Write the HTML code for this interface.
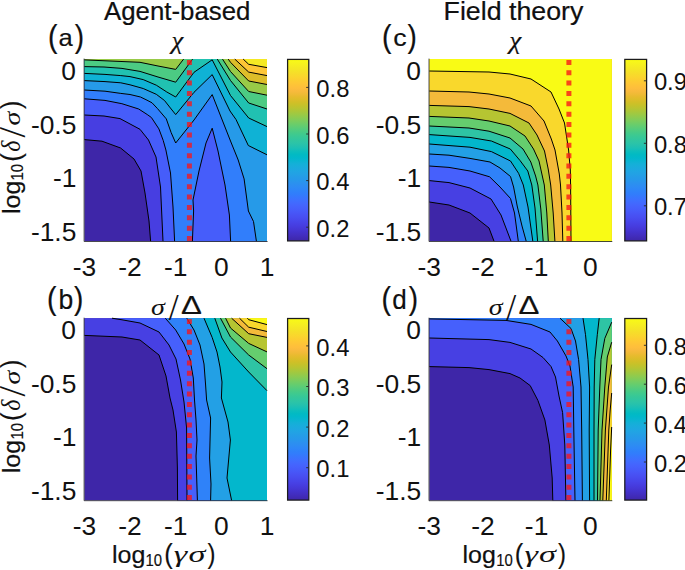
<!DOCTYPE html>
<html><head><meta charset="utf-8"><title>Figure</title>
<style>
html,body{margin:0;padding:0;background:#fff;}
svg{display:block;}
text{font-family:"Liberation Sans",sans-serif;fill:#111;}
</style></head><body>
<svg width="685" height="570" viewBox="0 0 685 570">
<rect width="685" height="570" fill="#fff"/>
<defs><linearGradient id="pg" x1="0" y1="1" x2="0" y2="0">
<stop offset="0.0000" stop-color="#3e26a8"/>
<stop offset="0.0159" stop-color="#402ab4"/>
<stop offset="0.0317" stop-color="#422ec0"/>
<stop offset="0.0476" stop-color="#4332cb"/>
<stop offset="0.0635" stop-color="#4537d5"/>
<stop offset="0.0794" stop-color="#463cde"/>
<stop offset="0.0952" stop-color="#4741e5"/>
<stop offset="0.1111" stop-color="#4747eb"/>
<stop offset="0.1270" stop-color="#484df0"/>
<stop offset="0.1429" stop-color="#4852f4"/>
<stop offset="0.1587" stop-color="#4758f8"/>
<stop offset="0.1746" stop-color="#465efb"/>
<stop offset="0.1905" stop-color="#4563fd"/>
<stop offset="0.2063" stop-color="#4269fe"/>
<stop offset="0.2222" stop-color="#3e6fff"/>
<stop offset="0.2381" stop-color="#3875fe"/>
<stop offset="0.2540" stop-color="#327cfc"/>
<stop offset="0.2698" stop-color="#2f81fa"/>
<stop offset="0.2857" stop-color="#2e87f7"/>
<stop offset="0.3016" stop-color="#2d8cf3"/>
<stop offset="0.3175" stop-color="#2b91ef"/>
<stop offset="0.3333" stop-color="#2797eb"/>
<stop offset="0.3492" stop-color="#259be8"/>
<stop offset="0.3651" stop-color="#23a0e5"/>
<stop offset="0.3810" stop-color="#20a5e3"/>
<stop offset="0.3968" stop-color="#1ca9df"/>
<stop offset="0.4127" stop-color="#18addb"/>
<stop offset="0.4286" stop-color="#12b1d6"/>
<stop offset="0.4444" stop-color="#08b5d0"/>
<stop offset="0.4603" stop-color="#01b8ca"/>
<stop offset="0.4762" stop-color="#02bac3"/>
<stop offset="0.4921" stop-color="#0bbdbd"/>
<stop offset="0.5079" stop-color="#19bfb6"/>
<stop offset="0.5238" stop-color="#24c1ae"/>
<stop offset="0.5397" stop-color="#2cc4a7"/>
<stop offset="0.5556" stop-color="#31c69f"/>
<stop offset="0.5714" stop-color="#37c897"/>
<stop offset="0.5873" stop-color="#3fca8e"/>
<stop offset="0.6032" stop-color="#4acb84"/>
<stop offset="0.6190" stop-color="#57cc7a"/>
<stop offset="0.6349" stop-color="#64cd6f"/>
<stop offset="0.6508" stop-color="#72cd64"/>
<stop offset="0.6667" stop-color="#81cc59"/>
<stop offset="0.6825" stop-color="#8fcb4e"/>
<stop offset="0.6984" stop-color="#9dc943"/>
<stop offset="0.7143" stop-color="#abc739"/>
<stop offset="0.7302" stop-color="#b9c431"/>
<stop offset="0.7460" stop-color="#c5c22a"/>
<stop offset="0.7619" stop-color="#d1bf27"/>
<stop offset="0.7778" stop-color="#dcbd29"/>
<stop offset="0.7937" stop-color="#e6bb2d"/>
<stop offset="0.8095" stop-color="#f0ba36"/>
<stop offset="0.8254" stop-color="#f8ba3d"/>
<stop offset="0.8413" stop-color="#febe3c"/>
<stop offset="0.8571" stop-color="#fec338"/>
<stop offset="0.8730" stop-color="#fec934"/>
<stop offset="0.8889" stop-color="#fccf30"/>
<stop offset="0.9048" stop-color="#fad62d"/>
<stop offset="0.9206" stop-color="#f7dc2a"/>
<stop offset="0.9365" stop-color="#f5e327"/>
<stop offset="0.9524" stop-color="#f5e924"/>
<stop offset="0.9683" stop-color="#f6ef20"/>
<stop offset="0.9841" stop-color="#f7f51b"/>
<stop offset="1.0000" stop-color="#f9fb15"/>
</linearGradient></defs>
<g shape-rendering="geometricPrecision">
<rect x="84.4" y="59.1" width="182.6" height="182.1" fill="#3e26a8"/>
<polygon points="84.4,139.6 102.0,141.2 120.6,148.0 134.0,159.0 141.0,171.0 145.0,193.0 149.0,221.0 150.6,241.2 267.0,241.2 267.0,59.1 84.4,59.1" fill="#473ee1"/>
<polygon points="84.4,115.0 104.0,116.0 120.0,118.6 140.0,129.3 148.5,140.0 156.0,157.0 160.5,187.0 163.0,241.2 267.0,241.2 267.0,59.1 84.4,59.1" fill="#465dfa"/>
<polygon points="84.4,98.8 105.0,100.4 121.9,103.7 138.7,109.0 147.2,114.5 151.4,117.5 158.9,128.9 163.2,140.4 165.9,150.0 170.5,173.0 173.0,207.0 174.6,241.2 267.0,241.2 267.0,59.1 84.4,59.1" fill="#317efb"/>
<polygon points="84.4,90.0 105.0,91.2 120.8,93.4 130.0,94.5 140.5,97.0 147.0,100.2 152.0,102.8 157.5,108.6 166.3,118.9 171.1,132.5 175.7,143.0 194.0,120.0 212.2,94.6 230.5,141.0 238.2,160.0 244.1,178.9 248.4,211.0 253.5,221.5 256.4,241.2 267.0,241.2 267.0,59.1 84.4,59.1" fill="#269ae8"/>
<polygon points="84.4,80.6 105.0,81.6 120.8,82.8 130.0,84.8 143.2,88.5 156.3,94.3 164.5,100.5 170.4,108.0 175.7,114.6 194.0,92.3 212.2,74.6 230.0,111.0 236.0,119.5 248.3,145.5 267.0,154.8 267.0,59.1 84.4,59.1" fill="#0fb2d5"/>
<polygon points="84.4,73.4 105.0,74.4 120.8,75.6 130.0,76.6 143.2,79.6 156.3,85.2 166.8,92.0 175.7,97.0 194.0,72.3 212.2,59.8 230.5,95.5 248.7,118.0 267.0,126.6 267.0,59.1 84.4,59.1" fill="#21c1b1"/>
<polygon points="84.4,66.6 104.0,67.0 122.0,68.4 140.0,71.4 158.0,77.0 175.7,82.2 192.6,59.1 84.4,59.1" fill="#4ccb83"/>
<polygon points="217.3,59.1 230.5,80.5 248.7,103.0 267.0,109.0 267.0,59.1" fill="#4ccb83"/>
<polygon points="84.4,59.9 140.0,62.3 158.0,66.0 175.7,69.4 183.6,59.1 84.4,59.1" fill="#98ca47"/>
<polygon points="222.5,59.1 230.5,71.5 248.7,91.5 267.0,95.2 267.0,59.1" fill="#98ca47"/>
<polygon points="228.2,59.1 230.5,62.3 248.7,81.0 267.0,84.5 267.0,59.1" fill="#ddbd29"/>
<polygon points="234.8,59.1 248.7,72.1 267.0,75.6 267.0,59.1" fill="#fec636"/>
<polygon points="243.2,59.1 248.7,64.3 267.0,67.6 267.0,59.1" fill="#f5e924"/>
<polygon points="192.4,241.2 193.6,211.0 193.0,200.0 199.0,171.0 206.0,143.0 212.2,128.2 218.0,151.0 225.0,185.0 229.4,215.0 230.6,241.2" fill="#465dfa"/>
<rect x="84.4" y="318.2" width="182.6" height="182.2" fill="#3e26a8"/>
<polygon points="84.4,335.4 122.0,337.0 140.0,340.0 159.0,355.0 166.0,376.0 170.0,398.0 173.0,410.0 176.4,432.0 177.4,468.0 177.6,500.4 267.0,500.4 267.0,318.2 84.4,318.2" fill="#4740e3"/>
<polygon points="112.0,318.2 122.0,319.8 140.0,323.0 159.0,332.0 169.0,345.0 176.0,359.0 180.5,380.0 184.0,402.0 186.6,428.0 187.0,500.4 267.0,500.4 267.0,318.2" fill="#4660fc"/>
<polygon points="165.3,318.2 175.7,330.0 184.0,344.0 190.0,359.0 193.3,378.0 194.5,400.0 196.0,420.0 197.0,440.0 196.0,456.0 197.4,500.4 267.0,500.4 267.0,318.2" fill="#2f82f9"/>
<polygon points="186.8,318.2 194.0,330.0 200.0,345.0 204.0,364.0 205.6,385.0 206.6,400.0 210.6,418.0 209.6,458.0 211.0,484.0 210.6,500.4 267.0,500.4 267.0,318.2" fill="#23a0e5"/>
<polygon points="204.0,318.2 212.2,337.5 217.0,352.0 220.0,367.0 222.0,382.0 221.4,398.0 228.0,422.0 230.4,440.0 227.0,478.0 231.6,500.4 267.0,500.4 267.0,318.2" fill="#03b7cc"/>
<polygon points="214.8,318.2 221.9,338.0 230.5,352.0 248.7,372.0 267.0,390.7 267.0,318.2" fill="#2ec4a4"/>
<polygon points="220.5,318.2 230.5,337.0 248.7,355.0 267.0,368.7 267.0,318.2" fill="#65cd6e"/>
<polygon points="225.6,318.2 230.5,328.0 248.7,343.4 267.0,351.9 267.0,318.2" fill="#b6c532"/>
<polygon points="231.6,318.2 248.7,333.7 267.0,337.4 267.0,318.2" fill="#f4ba3a"/>
<polygon points="239.5,318.2 248.7,327.2 267.0,331.5 267.0,318.2" fill="#f9d82c"/>
<polygon points="247.4,318.2 248.7,319.7 267.0,324.6 267.0,318.2" fill="#f9fb15"/>
<rect x="429.3" y="59.1" width="182.4" height="182.1" fill="#3e26a8"/>
<polygon points="429.3,202.0 449.0,205.0 470.0,213.0 489.0,228.0 494.0,241.2 611.7,241.2 611.7,59.1 429.3,59.1" fill="#4740e3"/>
<polygon points="429.3,180.6 449.0,182.6 470.0,188.0 491.0,199.0 501.0,215.0 511.0,241.2 611.7,241.2 611.7,59.1 429.3,59.1" fill="#4660fc"/>
<polygon points="429.3,166.0 449.0,167.4 470.0,171.0 489.6,176.8 500.0,187.0 510.5,198.5 514.5,213.0 518.3,241.2 611.7,241.2 611.7,59.1 429.3,59.1" fill="#2f82f9"/>
<polygon points="429.3,154.0 449.0,155.2 470.0,158.4 490.0,162.0 500.0,168.0 510.5,176.5 513.6,187.0 517.2,206.0 522.0,226.0 526.2,241.2 611.7,241.2 611.7,59.1 429.3,59.1" fill="#23a0e5"/>
<polygon points="429.3,144.0 470.0,147.2 491.4,151.6 510.5,161.0 518.6,173.3 523.3,185.0 528.0,207.0 532.8,241.2 611.7,241.2 611.7,59.1 429.3,59.1" fill="#03b7cc"/>
<polygon points="429.3,134.6 470.0,137.4 491.4,141.0 510.3,149.0 520.0,160.5 527.8,171.0 531.8,185.0 535.0,208.0 537.6,241.2 611.7,241.2 611.7,59.1 429.3,59.1" fill="#2ec4a4"/>
<polygon points="429.3,126.0 469.0,128.0 489.0,131.2 510.0,138.0 523.0,149.0 530.8,162.0 535.6,176.0 537.9,185.0 540.8,209.0 543.2,241.2 611.7,241.2 611.7,59.1 429.3,59.1" fill="#65cd6e"/>
<polygon points="429.3,116.4 469.0,118.0 489.0,121.0 510.0,126.0 525.0,136.0 533.5,149.0 539.0,161.0 544.3,185.0 546.8,213.0 548.3,241.2 611.7,241.2 611.7,59.1 429.3,59.1" fill="#b6c532"/>
<polygon points="429.3,105.4 469.0,106.6 489.0,109.0 510.0,113.4 529.0,123.0 537.0,135.0 544.5,151.0 548.2,169.0 550.7,185.0 553.2,213.0 554.9,241.2 611.7,241.2 611.7,59.1 429.3,59.1" fill="#f4ba3a"/>
<polygon points="429.3,91.0 469.0,92.0 489.0,94.0 510.0,98.0 531.0,106.0 544.0,121.0 551.3,139.0 555.0,150.0 559.3,174.0 560.5,185.0 562.0,213.0 562.8,241.2 611.7,241.2 611.7,59.1 429.3,59.1" fill="#f9d82c"/>
<polygon points="429.3,71.0 489.0,72.0 510.0,74.0 531.0,79.0 551.0,92.0 559.0,109.0 564.5,123.0 568.6,150.0 570.3,170.0 570.6,185.0 571.0,241.2 611.7,241.2 611.7,59.1 429.3,59.1" fill="#f9fb15"/>
<rect x="429.3" y="318.2" width="182.4" height="182.2" fill="#3e26a8"/>
<polygon points="429.3,366.6 469.0,367.6 489.0,369.6 510.0,373.6 520.0,378.0 530.2,385.6 537.9,400.4 544.9,420.0 549.3,445.0 552.2,478.0 552.8,500.4 611.7,500.4 611.7,318.2 429.3,318.2" fill="#4740e3"/>
<polygon points="429.3,338.0 489.0,339.6 510.0,342.4 531.0,349.0 543.0,357.5 551.0,366.5 555.5,377.0 559.0,396.0 562.6,412.6 564.8,445.0 565.9,500.4 611.7,500.4 611.7,318.2 429.3,318.2" fill="#4660fc"/>
<polygon points="429.3,318.9 506.0,320.4 531.0,324.4 550.0,332.0 557.4,341.0 566.0,356.0 570.0,366.0 573.2,387.0 573.8,430.0 575.0,500.4 611.7,500.4 611.7,318.2 429.3,318.2" fill="#2f82f9"/>
<polygon points="560.0,318.2 571.0,328.5 575.5,341.0 578.6,359.6 581.0,387.0 581.7,430.0 582.4,500.4 611.7,500.4 611.7,318.2" fill="#23a0e5"/>
<polygon points="583.0,318.2 585.5,334.7 588.0,359.6 589.6,387.0 589.2,430.0 589.6,500.4 611.7,500.4 611.7,318.2" fill="#03b7cc"/>
<polygon points="599.2,318.2 597.3,334.7 594.8,359.6 594.2,387.0 594.0,430.0 594.0,500.4 611.7,500.4 611.7,318.2" fill="#2ec4a4"/>
<polygon points="611.7,322.2 604.8,338.4 601.0,359.6 599.8,387.0 598.2,430.0 597.5,500.4 611.7,500.4" fill="#65cd6e"/>
<polygon points="611.7,342.2 607.3,357.0 604.8,387.0 602.0,430.0 600.0,500.4 611.7,500.4" fill="#b6c532"/>
<polygon points="611.7,364.6 608.5,387.0 605.4,430.0 602.8,500.4 611.7,500.4" fill="#f4ba3a"/>
<polygon points="611.7,393.0 610.2,410.0 608.8,430.0 606.3,500.4 611.7,500.4" fill="#f9d82c"/>
<polygon points="611.7,427.0 610.6,450.0 608.9,500.4 611.7,500.4" fill="#f9fb15"/>
</g>
<g fill="none" stroke="#000" stroke-width="1.0" stroke-linejoin="round">
<polyline points="84.4,139.6 102.0,141.2 120.6,148.0 134.0,159.0 141.0,171.0 145.0,193.0 149.0,221.0 150.6,241.2"/>
<polyline points="84.4,115.0 104.0,116.0 120.0,118.6 140.0,129.3 148.5,140.0 156.0,157.0 160.5,187.0 163.0,241.2"/>
<polyline points="84.4,98.8 105.0,100.4 121.9,103.7 138.7,109.0 147.2,114.5 151.4,117.5 158.9,128.9 163.2,140.4 165.9,150.0 170.5,173.0 173.0,207.0 174.6,241.2"/>
<polyline points="84.4,90.0 105.0,91.2 120.8,93.4 130.0,94.5 140.5,97.0 147.0,100.2 152.0,102.8 157.5,108.6 166.3,118.9 171.1,132.5 175.7,143.0 194.0,120.0 212.2,94.6 230.5,141.0 238.2,160.0 244.1,178.9 248.4,211.0 253.5,221.5 256.4,241.2"/>
<polyline points="84.4,80.6 105.0,81.6 120.8,82.8 130.0,84.8 143.2,88.5 156.3,94.3 164.5,100.5 170.4,108.0 175.7,114.6 194.0,92.3 212.2,74.6 230.0,111.0 236.0,119.5 248.3,145.5 267.0,154.8"/>
<polyline points="84.4,73.4 105.0,74.4 120.8,75.6 130.0,76.6 143.2,79.6 156.3,85.2 166.8,92.0 175.7,97.0 194.0,72.3 212.2,59.8 230.5,95.5 248.7,118.0 267.0,126.6"/>
<polyline points="84.4,66.6 104.0,67.0 122.0,68.4 140.0,71.4 158.0,77.0 175.7,82.2 192.6,59.1"/>
<polyline points="217.3,59.1 230.5,80.5 248.7,103.0 267.0,109.0"/>
<polyline points="84.4,59.9 140.0,62.3 158.0,66.0 175.7,69.4 183.6,59.1"/>
<polyline points="222.5,59.1 230.5,71.5 248.7,91.5 267.0,95.2"/>
<polyline points="228.2,59.1 230.5,62.3 248.7,81.0 267.0,84.5"/>
<polyline points="234.8,59.1 248.7,72.1 267.0,75.6"/>
<polyline points="243.2,59.1 248.7,64.3 267.0,67.6"/>
<polyline points="192.4,241.2 193.6,211.0 193.0,200.0 199.0,171.0 206.0,143.0 212.2,128.2 218.0,151.0 225.0,185.0 229.4,215.0 230.6,241.2"/>
<polyline points="84.4,335.4 122.0,337.0 140.0,340.0 159.0,355.0 166.0,376.0 170.0,398.0 173.0,410.0 176.4,432.0 177.4,468.0 177.6,500.4"/>
<polyline points="112.0,318.2 122.0,319.8 140.0,323.0 159.0,332.0 169.0,345.0 176.0,359.0 180.5,380.0 184.0,402.0 186.6,428.0 187.0,500.4"/>
<polyline points="165.3,318.2 175.7,330.0 184.0,344.0 190.0,359.0 193.3,378.0 194.5,400.0 196.0,420.0 197.0,440.0 196.0,456.0 197.4,500.4"/>
<polyline points="186.8,318.2 194.0,330.0 200.0,345.0 204.0,364.0 205.6,385.0 206.6,400.0 210.6,418.0 209.6,458.0 211.0,484.0 210.6,500.4"/>
<polyline points="204.0,318.2 212.2,337.5 217.0,352.0 220.0,367.0 222.0,382.0 221.4,398.0 228.0,422.0 230.4,440.0 227.0,478.0 231.6,500.4"/>
<polyline points="214.8,318.2 221.9,338.0 230.5,352.0 248.7,372.0 267.0,390.7"/>
<polyline points="220.5,318.2 230.5,337.0 248.7,355.0 267.0,368.7"/>
<polyline points="225.6,318.2 230.5,328.0 248.7,343.4 267.0,351.9"/>
<polyline points="231.6,318.2 248.7,333.7 267.0,337.4"/>
<polyline points="239.5,318.2 248.7,327.2 267.0,331.5"/>
<polyline points="247.4,318.2 248.7,319.7 267.0,324.6"/>
<polyline points="429.3,202.0 449.0,205.0 470.0,213.0 489.0,228.0 494.0,241.2"/>
<polyline points="429.3,180.6 449.0,182.6 470.0,188.0 491.0,199.0 501.0,215.0 511.0,241.2"/>
<polyline points="429.3,166.0 449.0,167.4 470.0,171.0 489.6,176.8 500.0,187.0 510.5,198.5 514.5,213.0 518.3,241.2"/>
<polyline points="429.3,154.0 449.0,155.2 470.0,158.4 490.0,162.0 500.0,168.0 510.5,176.5 513.6,187.0 517.2,206.0 522.0,226.0 526.2,241.2"/>
<polyline points="429.3,144.0 470.0,147.2 491.4,151.6 510.5,161.0 518.6,173.3 523.3,185.0 528.0,207.0 532.8,241.2"/>
<polyline points="429.3,134.6 470.0,137.4 491.4,141.0 510.3,149.0 520.0,160.5 527.8,171.0 531.8,185.0 535.0,208.0 537.6,241.2"/>
<polyline points="429.3,126.0 469.0,128.0 489.0,131.2 510.0,138.0 523.0,149.0 530.8,162.0 535.6,176.0 537.9,185.0 540.8,209.0 543.2,241.2"/>
<polyline points="429.3,116.4 469.0,118.0 489.0,121.0 510.0,126.0 525.0,136.0 533.5,149.0 539.0,161.0 544.3,185.0 546.8,213.0 548.3,241.2"/>
<polyline points="429.3,105.4 469.0,106.6 489.0,109.0 510.0,113.4 529.0,123.0 537.0,135.0 544.5,151.0 548.2,169.0 550.7,185.0 553.2,213.0 554.9,241.2"/>
<polyline points="429.3,91.0 469.0,92.0 489.0,94.0 510.0,98.0 531.0,106.0 544.0,121.0 551.3,139.0 555.0,150.0 559.3,174.0 560.5,185.0 562.0,213.0 562.8,241.2"/>
<polyline points="429.3,71.0 489.0,72.0 510.0,74.0 531.0,79.0 551.0,92.0 559.0,109.0 564.5,123.0 568.6,150.0 570.3,170.0 570.6,185.0 571.0,241.2"/>
<polyline points="429.3,366.6 469.0,367.6 489.0,369.6 510.0,373.6 520.0,378.0 530.2,385.6 537.9,400.4 544.9,420.0 549.3,445.0 552.2,478.0 552.8,500.4"/>
<polyline points="429.3,338.0 489.0,339.6 510.0,342.4 531.0,349.0 543.0,357.5 551.0,366.5 555.5,377.0 559.0,396.0 562.6,412.6 564.8,445.0 565.9,500.4"/>
<polyline points="429.3,318.9 506.0,320.4 531.0,324.4 550.0,332.0 557.4,341.0 566.0,356.0 570.0,366.0 573.2,387.0 573.8,430.0 575.0,500.4"/>
<polyline points="560.0,318.2 571.0,328.5 575.5,341.0 578.6,359.6 581.0,387.0 581.7,430.0 582.4,500.4"/>
<polyline points="583.0,318.2 585.5,334.7 588.0,359.6 589.6,387.0 589.2,430.0 589.6,500.4"/>
<polyline points="599.2,318.2 597.3,334.7 594.8,359.6 594.2,387.0 594.0,430.0 594.0,500.4"/>
<polyline points="611.7,322.2 604.8,338.4 601.0,359.6 599.8,387.0 598.2,430.0 597.5,500.4"/>
<polyline points="611.7,342.2 607.3,357.0 604.8,387.0 602.0,430.0 600.0,500.4"/>
<polyline points="611.7,364.6 608.5,387.0 605.4,430.0 602.8,500.4"/>
<polyline points="611.7,393.0 610.2,410.0 608.8,430.0 606.3,500.4"/>
<polyline points="611.7,427.0 610.6,450.0 608.9,500.4"/>
</g>
<g fill="none" stroke="#262626" stroke-width="0.8">
<path d="M84.1 58.6V241.5H267.6"/>
<path d="M84.1 317.7V500.7H267.6"/>
<path d="M429.0 58.6V241.5H612.3"/>
<path d="M429.0 317.7V500.7H612.3"/>
</g>
<g fill="none" stroke="#f81418" stroke-opacity="0.78" stroke-width="5" stroke-dasharray="5 5.36">
<path d="M189.4 59.9V241.2"/>
<path d="M189.4 319.0V500.4"/>
<path d="M568.9 59.9V241.2"/>
<path d="M568.9 319.0V500.4"/>
</g>
<rect x="287.6" y="59.4" width="21.2" height="181.5" fill="url(#pg)" stroke="#1c1c1c" stroke-width="1.25"/>
<rect x="287.6" y="318.5" width="21.2" height="181.6" fill="url(#pg)" stroke="#1c1c1c" stroke-width="1.25"/>
<rect x="624.8" y="59.4" width="21.8" height="181.5" fill="url(#pg)" stroke="#1c1c1c" stroke-width="1.25"/>
<rect x="624.8" y="318.5" width="21.8" height="181.6" fill="url(#pg)" stroke="#1c1c1c" stroke-width="1.25"/>
<path d="M308.8 87.4h-2.6" stroke="#262626" stroke-width="0.9"/>
<text x="316.29" y="97.05" fill="#222" style="font-family:'Liberation Sans',sans-serif;font-size:23.8px">0.8</text>
<path d="M308.8 134.0h-2.6" stroke="#262626" stroke-width="0.9"/>
<text x="316.29" y="143.65" fill="#222" style="font-family:'Liberation Sans',sans-serif;font-size:23.8px">0.6</text>
<path d="M308.8 180.6h-2.6" stroke="#262626" stroke-width="0.9"/>
<text x="316.29" y="190.25" fill="#222" style="font-family:'Liberation Sans',sans-serif;font-size:23.8px">0.4</text>
<path d="M308.8 227.2h-2.6" stroke="#262626" stroke-width="0.9"/>
<text x="316.29" y="236.85" fill="#222" style="font-family:'Liberation Sans',sans-serif;font-size:23.8px">0.2</text>
<path d="M646.5 80.8h-2.6" stroke="#262626" stroke-width="0.9"/>
<text x="653.89" y="90.45" fill="#222" style="font-family:'Liberation Sans',sans-serif;font-size:23.8px">0.9</text>
<path d="M646.5 143.3h-2.6" stroke="#262626" stroke-width="0.9"/>
<text x="653.89" y="152.95" fill="#222" style="font-family:'Liberation Sans',sans-serif;font-size:23.8px">0.8</text>
<path d="M646.5 205.8h-2.6" stroke="#262626" stroke-width="0.9"/>
<text x="653.89" y="215.45" fill="#222" style="font-family:'Liberation Sans',sans-serif;font-size:23.8px">0.7</text>
<path d="M308.8 345.9h-2.6" stroke="#262626" stroke-width="0.9"/>
<text x="316.29" y="355.55" fill="#222" style="font-family:'Liberation Sans',sans-serif;font-size:23.8px">0.4</text>
<path d="M308.8 386.5h-2.6" stroke="#262626" stroke-width="0.9"/>
<text x="316.29" y="396.15" fill="#222" style="font-family:'Liberation Sans',sans-serif;font-size:23.8px">0.3</text>
<path d="M308.8 427.1h-2.6" stroke="#262626" stroke-width="0.9"/>
<text x="316.29" y="436.75" fill="#222" style="font-family:'Liberation Sans',sans-serif;font-size:23.8px">0.2</text>
<path d="M308.8 467.7h-2.6" stroke="#262626" stroke-width="0.9"/>
<text x="316.29" y="477.35" fill="#222" style="font-family:'Liberation Sans',sans-serif;font-size:23.8px">0.1</text>
<path d="M646.5 345.3h-2.6" stroke="#262626" stroke-width="0.9"/>
<text x="653.89" y="354.95" fill="#222" style="font-family:'Liberation Sans',sans-serif;font-size:23.8px">0.8</text>
<path d="M646.5 384.2h-2.6" stroke="#262626" stroke-width="0.9"/>
<text x="653.89" y="393.85" fill="#222" style="font-family:'Liberation Sans',sans-serif;font-size:23.8px">0.6</text>
<path d="M646.5 423.1h-2.6" stroke="#262626" stroke-width="0.9"/>
<text x="653.89" y="432.75" fill="#222" style="font-family:'Liberation Sans',sans-serif;font-size:23.8px">0.4</text>
<path d="M646.5 462.0h-2.6" stroke="#262626" stroke-width="0.9"/>
<text x="653.89" y="471.65" fill="#222" style="font-family:'Liberation Sans',sans-serif;font-size:23.8px">0.2</text>
<text text-anchor="end" x="76.00" y="80.00" fill="#222" style="font-family:'Liberation Sans',sans-serif;font-size:26.4px">0</text>
<text text-anchor="end" x="420.90" y="80.00" fill="#222" style="font-family:'Liberation Sans',sans-serif;font-size:26.4px">0</text>
<text text-anchor="end" x="76.40" y="133.80" fill="#222" style="font-family:'Liberation Sans',sans-serif;font-size:26.4px">-0.5</text>
<text text-anchor="end" x="421.30" y="133.80" fill="#222" style="font-family:'Liberation Sans',sans-serif;font-size:26.4px">-0.5</text>
<text text-anchor="end" x="76.40" y="187.20" fill="#222" style="font-family:'Liberation Sans',sans-serif;font-size:26.4px">-1</text>
<text text-anchor="end" x="421.30" y="187.20" fill="#222" style="font-family:'Liberation Sans',sans-serif;font-size:26.4px">-1</text>
<text text-anchor="end" x="76.40" y="240.60" fill="#222" style="font-family:'Liberation Sans',sans-serif;font-size:26.4px">-1.5</text>
<text text-anchor="end" x="421.30" y="240.60" fill="#222" style="font-family:'Liberation Sans',sans-serif;font-size:26.4px">-1.5</text>
<text text-anchor="end" x="76.00" y="339.10" fill="#222" style="font-family:'Liberation Sans',sans-serif;font-size:26.4px">0</text>
<text text-anchor="end" x="420.90" y="339.10" fill="#222" style="font-family:'Liberation Sans',sans-serif;font-size:26.4px">0</text>
<text text-anchor="end" x="76.40" y="392.90" fill="#222" style="font-family:'Liberation Sans',sans-serif;font-size:26.4px">-0.5</text>
<text text-anchor="end" x="421.30" y="392.90" fill="#222" style="font-family:'Liberation Sans',sans-serif;font-size:26.4px">-0.5</text>
<text text-anchor="end" x="76.40" y="446.30" fill="#222" style="font-family:'Liberation Sans',sans-serif;font-size:26.4px">-1</text>
<text text-anchor="end" x="421.30" y="446.30" fill="#222" style="font-family:'Liberation Sans',sans-serif;font-size:26.4px">-1</text>
<text text-anchor="end" x="76.40" y="499.70" fill="#222" style="font-family:'Liberation Sans',sans-serif;font-size:26.4px">-1.5</text>
<text text-anchor="end" x="421.30" y="499.70" fill="#222" style="font-family:'Liberation Sans',sans-serif;font-size:26.4px">-1.5</text>
<text text-anchor="middle" x="84.40" y="534.90" fill="#222" style="font-family:'Liberation Sans',sans-serif;font-size:26.4px">-3</text>
<text text-anchor="middle" x="130.05" y="534.90" fill="#222" style="font-family:'Liberation Sans',sans-serif;font-size:26.4px">-2</text>
<text text-anchor="middle" x="175.70" y="534.90" fill="#222" style="font-family:'Liberation Sans',sans-serif;font-size:26.4px">-1</text>
<text text-anchor="middle" x="221.35" y="534.90" fill="#222" style="font-family:'Liberation Sans',sans-serif;font-size:26.4px">0</text>
<text text-anchor="middle" x="267.00" y="534.90" fill="#222" style="font-family:'Liberation Sans',sans-serif;font-size:26.4px">1</text>
<text text-anchor="middle" x="429.30" y="534.90" fill="#222" style="font-family:'Liberation Sans',sans-serif;font-size:26.4px">-3</text>
<text text-anchor="middle" x="482.95" y="534.90" fill="#222" style="font-family:'Liberation Sans',sans-serif;font-size:26.4px">-2</text>
<text text-anchor="middle" x="536.60" y="534.90" fill="#222" style="font-family:'Liberation Sans',sans-serif;font-size:26.4px">-1</text>
<text text-anchor="middle" x="590.25" y="534.90" fill="#222" style="font-family:'Liberation Sans',sans-serif;font-size:26.4px">0</text>
<text text-anchor="middle" x="84.40" y="275.70" fill="#222" style="font-family:'Liberation Sans',sans-serif;font-size:26.4px">-3</text>
<text text-anchor="middle" x="130.05" y="275.70" fill="#222" style="font-family:'Liberation Sans',sans-serif;font-size:26.4px">-2</text>
<text text-anchor="middle" x="175.70" y="275.70" fill="#222" style="font-family:'Liberation Sans',sans-serif;font-size:26.4px">-1</text>
<text text-anchor="middle" x="221.35" y="275.70" fill="#222" style="font-family:'Liberation Sans',sans-serif;font-size:26.4px">0</text>
<text text-anchor="middle" x="267.00" y="275.70" fill="#222" style="font-family:'Liberation Sans',sans-serif;font-size:26.4px">1</text>
<text text-anchor="middle" x="429.30" y="275.70" fill="#222" style="font-family:'Liberation Sans',sans-serif;font-size:26.4px">-3</text>
<text text-anchor="middle" x="482.95" y="275.70" fill="#222" style="font-family:'Liberation Sans',sans-serif;font-size:26.4px">-2</text>
<text text-anchor="middle" x="536.60" y="275.70" fill="#222" style="font-family:'Liberation Sans',sans-serif;font-size:26.4px">-1</text>
<text text-anchor="middle" x="590.25" y="275.70" fill="#222" style="font-family:'Liberation Sans',sans-serif;font-size:26.4px">0</text>
<text transform="translate(104.00,20.00) scale(1.0167,1)" fill="#000" stroke="#000" stroke-width="0.20" style="font-family:'Liberation Sans',sans-serif;font-size:25.40px;">Agent-based</text>
<text transform="translate(443.56,20.00) scale(1.0530,1)" fill="#000" stroke="#000" stroke-width="0.20" style="font-family:'Liberation Sans',sans-serif;font-size:25.40px;">Field theory</text>
<text transform="translate(48.09,47.32) scale(0.9244,1)" fill="#000" stroke="#000" stroke-width="0.20" style="font-family:'Liberation Sans',sans-serif;font-size:30.85px;">(</text>
<text transform="translate(58.38,46.40) scale(1.0657,1)" fill="#000" stroke="#000" stroke-width="0.15" style="font-family:'Liberation Sans',sans-serif;font-size:24.00px;">a</text>
<text transform="translate(74.80,47.32) scale(0.9030,1)" fill="#000" stroke="#000" stroke-width="0.20" style="font-family:'Liberation Sans',sans-serif;font-size:30.85px;">)</text>
<text transform="translate(382.09,47.32) scale(0.9244,1)" fill="#000" stroke="#000" stroke-width="0.20" style="font-family:'Liberation Sans',sans-serif;font-size:30.85px;">(</text>
<text transform="translate(393.23,46.40) scale(1.1174,1)" fill="#000" stroke="#000" stroke-width="0.15" style="font-family:'Liberation Sans',sans-serif;font-size:24.00px;">c</text>
<text transform="translate(407.40,47.32) scale(0.9030,1)" fill="#000" stroke="#000" stroke-width="0.20" style="font-family:'Liberation Sans',sans-serif;font-size:30.85px;">)</text>
<text transform="translate(47.09,309.42) scale(0.9244,1)" fill="#000" stroke="#000" stroke-width="0.20" style="font-family:'Liberation Sans',sans-serif;font-size:30.85px;">(</text>
<text transform="translate(58.41,308.50) scale(0.9823,1)" fill="#000" stroke="#000" stroke-width="0.15" style="font-family:'Liberation Sans',sans-serif;font-size:27.00px;">b</text>
<text transform="translate(74.00,309.42) scale(0.9030,1)" fill="#000" stroke="#000" stroke-width="0.20" style="font-family:'Liberation Sans',sans-serif;font-size:30.85px;">)</text>
<text transform="translate(381.39,309.42) scale(0.9244,1)" fill="#000" stroke="#000" stroke-width="0.20" style="font-family:'Liberation Sans',sans-serif;font-size:30.85px;">(</text>
<text transform="translate(392.16,308.50) scale(0.9662,1)" fill="#000" stroke="#000" stroke-width="0.15" style="font-family:'Liberation Sans',sans-serif;font-size:27.00px;">d</text>
<text transform="translate(408.70,309.42) scale(0.9030,1)" fill="#000" stroke="#000" stroke-width="0.20" style="font-family:'Liberation Sans',sans-serif;font-size:30.85px;">)</text>
<text transform="translate(171.41,48.90) scale(1.0342,1)" fill="#000" stroke="#000" stroke-width="0.15" style="font-family:'Liberation Serif',serif;font-size:25.90px;font-style:italic;">χ</text>
<text transform="translate(509.16,48.90) scale(1.0549,1)" fill="#000" stroke="#000" stroke-width="0.15" style="font-family:'Liberation Serif',serif;font-size:25.90px;font-style:italic;">χ</text>
<text transform="translate(151.04,314.50) scale(1.2191,1)" fill="#000" style="font-family:'Liberation Serif',serif;font-size:23.00px;font-style:italic;">σ</text>
<text transform="translate(168.70,319.60) scale(0.9398,1)" fill="#000" style="font-family:'Liberation Serif',serif;font-size:38.00px;">/</text>
<text transform="translate(180.97,314.30) scale(1.2417,1)" fill="#000" stroke="#000" stroke-width="0.15" style="font-family:'Liberation Sans',sans-serif;font-size:25.20px;">Δ</text>
<text transform="translate(488.64,314.50) scale(1.2191,1)" fill="#000" style="font-family:'Liberation Serif',serif;font-size:23.00px;font-style:italic;">σ</text>
<text transform="translate(506.30,319.60) scale(0.9398,1)" fill="#000" style="font-family:'Liberation Serif',serif;font-size:38.00px;">/</text>
<text transform="translate(518.57,314.30) scale(1.2417,1)" fill="#000" stroke="#000" stroke-width="0.15" style="font-family:'Liberation Sans',sans-serif;font-size:25.20px;">Δ</text>
<g transform="translate(113.40,562.6)"><text transform="translate(-1.50,0.00) scale(1.0345,1)" fill="#000" stroke="#000" stroke-width="0.18" style="font-family:'Liberation Sans',sans-serif;font-size:24.20px;">log</text><text transform="translate(32.16,3.30) scale(0.9318,1)" fill="#000" stroke="#000" stroke-width="0.15" style="font-family:'Liberation Sans',sans-serif;font-size:16.00px;">10</text><text transform="translate(50.77,0.69) scale(0.9239,1)" fill="#000" stroke="#000" stroke-width="0.15" style="font-family:'Liberation Sans',sans-serif;font-size:27.66px;">(</text><text transform="translate(60.46,-0.20) scale(1.4228,1)" fill="#000" style="font-family:'Liberation Serif',serif;font-size:24.00px;font-style:italic;">γ</text><text transform="translate(75.01,-0.20) scale(1.5251,1)" fill="#000" style="font-family:'Liberation Serif',serif;font-size:22.50px;font-style:italic;">σ</text><text transform="translate(94.10,0.69) scale(0.8651,1)" fill="#000" stroke="#000" stroke-width="0.15" style="font-family:'Liberation Sans',sans-serif;font-size:27.66px;">)</text></g>
<g transform="translate(464.00,562.6)"><text transform="translate(-1.50,0.00) scale(1.0345,1)" fill="#000" stroke="#000" stroke-width="0.18" style="font-family:'Liberation Sans',sans-serif;font-size:24.20px;">log</text><text transform="translate(32.16,3.30) scale(0.9318,1)" fill="#000" stroke="#000" stroke-width="0.15" style="font-family:'Liberation Sans',sans-serif;font-size:16.00px;">10</text><text transform="translate(50.77,0.69) scale(0.9239,1)" fill="#000" stroke="#000" stroke-width="0.15" style="font-family:'Liberation Sans',sans-serif;font-size:27.66px;">(</text><text transform="translate(60.46,-0.20) scale(1.4228,1)" fill="#000" style="font-family:'Liberation Serif',serif;font-size:24.00px;font-style:italic;">γ</text><text transform="translate(75.01,-0.20) scale(1.5251,1)" fill="#000" style="font-family:'Liberation Serif',serif;font-size:22.50px;font-style:italic;">σ</text><text transform="translate(94.10,0.69) scale(0.8651,1)" fill="#000" stroke="#000" stroke-width="0.15" style="font-family:'Liberation Sans',sans-serif;font-size:27.66px;">)</text></g>
<g transform="translate(19.7,212.60) rotate(-90)"><text transform="translate(-1.50,0.00) scale(1.0345,1)" fill="#000" stroke="#000" stroke-width="0.18" style="font-family:'Liberation Sans',sans-serif;font-size:24.20px;">log</text><text transform="translate(32.16,3.30) scale(0.9318,1)" fill="#000" stroke="#000" stroke-width="0.15" style="font-family:'Liberation Sans',sans-serif;font-size:16.00px;">10</text><text transform="translate(50.77,0.69) scale(0.9239,1)" fill="#000" stroke="#000" stroke-width="0.15" style="font-family:'Liberation Sans',sans-serif;font-size:27.66px;">(</text><text transform="translate(60.92,-0.20) scale(0.9106,1)" fill="#000" style="font-family:'Liberation Serif',serif;font-size:26.50px;font-style:italic;">δ</text><text transform="translate(75.10,5.40) scale(0.9962,1)" fill="#000" style="font-family:'Liberation Serif',serif;font-size:38.00px;">/</text><text transform="translate(87.14,-0.20) scale(1.2375,1)" fill="#000" style="font-family:'Liberation Serif',serif;font-size:22.50px;font-style:italic;">σ</text><text transform="translate(103.60,0.69) scale(0.8909,1)" fill="#000" stroke="#000" stroke-width="0.15" style="font-family:'Liberation Sans',sans-serif;font-size:27.66px;">)</text></g>
<g transform="translate(19.7,471.70) rotate(-90)"><text transform="translate(-1.50,0.00) scale(1.0345,1)" fill="#000" stroke="#000" stroke-width="0.18" style="font-family:'Liberation Sans',sans-serif;font-size:24.20px;">log</text><text transform="translate(32.16,3.30) scale(0.9318,1)" fill="#000" stroke="#000" stroke-width="0.15" style="font-family:'Liberation Sans',sans-serif;font-size:16.00px;">10</text><text transform="translate(50.77,0.69) scale(0.9239,1)" fill="#000" stroke="#000" stroke-width="0.15" style="font-family:'Liberation Sans',sans-serif;font-size:27.66px;">(</text><text transform="translate(60.92,-0.20) scale(0.9106,1)" fill="#000" style="font-family:'Liberation Serif',serif;font-size:26.50px;font-style:italic;">δ</text><text transform="translate(75.10,5.40) scale(0.9962,1)" fill="#000" style="font-family:'Liberation Serif',serif;font-size:38.00px;">/</text><text transform="translate(87.14,-0.20) scale(1.2375,1)" fill="#000" style="font-family:'Liberation Serif',serif;font-size:22.50px;font-style:italic;">σ</text><text transform="translate(103.60,0.69) scale(0.8909,1)" fill="#000" stroke="#000" stroke-width="0.15" style="font-family:'Liberation Sans',sans-serif;font-size:27.66px;">)</text></g>
</svg>
</body></html>
